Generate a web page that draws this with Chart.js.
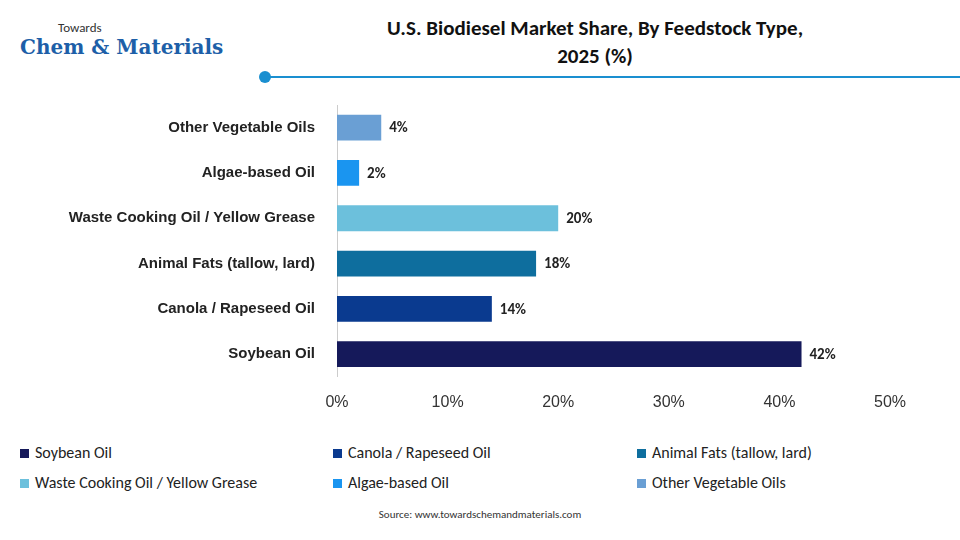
<!DOCTYPE html>
<html><head><meta charset="utf-8">
<script src="https://cdn.jsdelivr.net/npm/chart.js@4"></script>
<style>
body{margin:0;width:960px;height:540px;background:#fff;font-family:Calibri,"Liberation Sans",Arial,sans-serif;position:relative;overflow:hidden}
#title{position:absolute;left:300px;width:590px;top:14px;text-align:center;font-weight:bold;font-size:21px;line-height:28px;color:#111}
#rule{position:absolute;left:265px;top:76px;width:695px;height:2px;background:#1a8fd0}
#dot{position:absolute;left:259px;top:71px;width:12px;height:12px;border-radius:50%;background:#1a8fd0}
#logo{position:absolute;left:18px;top:20px;color:#1d5fa8}
#logo .t{font-size:13px;margin-left:40px;color:#333}
#logo .m{font-size:20px;font-weight:bold;font-family:"DejaVu Serif",serif;margin-left:2px}
#wrap{position:absolute;left:0;top:82px;width:960px;height:338px}
#legend{position:absolute;left:20px;top:443px;width:940px;font-size:16px;color:#222}
.li{position:absolute;white-space:nowrap}
.li i{display:inline-block;width:9px;height:9px;margin-right:6px}
#src{position:absolute;top:508px;width:960px;text-align:center;font-size:11px;color:#333}
</style></head><body>
<div id="logo"><div class="t">Towards</div><div class="m">Chem &amp; Materials</div></div>
<div id="title">U.S. Biodiesel Market Share, By Feedstock Type,<br>2025 (%)</div>
<div id="rule"></div><div id="dot"></div>
<div id="wrap"><canvas id="c"></canvas></div>
<div id="legend"></div>
<div id="src">Source: www.towardschemandmaterials.com</div>
<script>
const categories = ['Other Vegetable Oils','Algae-based Oil','Waste Cooking Oil / Yellow Grease','Animal Fats (tallow, lard)','Canola / Rapeseed Oil','Soybean Oil'];
const values = [4, 2, 20, 18, 14, 42];
const colors = ['#6a9fd4','#1a95f0','#6cc0dc','#0e6e9e','#0a3a8f','#15195a'];
const xTicks = [0,10,20,30,40,50];

// legend in reverse order (Soybean first)
const legend = document.getElementById('legend');
const cols = [0, 313, 617];
categories.slice().reverse().forEach((name, i) => {
    const d = document.createElement('div');
    d.className = 'li';
    d.style.left = cols[i % 3] + 'px';
    d.style.top = (Math.floor(i / 3) * 30) + 'px';
    const ci = categories.length - 1 - i;
    d.innerHTML = '<i style="background:' + colors[ci] + '"></i>' + name;
    legend.appendChild(d);
});

const labelPlugin = {
    id: 'labels',
    afterDatasetsDraw(chart) {
        const ctx = chart.ctx;
        ctx.save();
        ctx.font = 'bold 15px Calibri, "Liberation Sans", Arial';
        ctx.fillStyle = '#222';
        ctx.textBaseline = 'middle';
        chart.getDatasetMeta(0).data.forEach((bar, i) => {
            ctx.fillText(values[i] + '%', bar.x + 8, bar.y + 1);
        });
        ctx.restore();
    }
};

new Chart(document.getElementById('c'), {
    type: 'bar',
    data: { labels: categories, datasets: [{ data: values, backgroundColor: colors, barPercentage: 0.57, categoryPercentage: 1 }] },
    options: {
        indexAxis: 'y', responsive: true, maintainAspectRatio: false, animation: false,
        layout: { padding: { top: 4, right: 70, bottom: 0, left: 0 } },
        plugins: { legend: { display: false }, tooltip: { enabled: false } },
        scales: {
            x: {
                min: 0, max: 50,
                afterBuildTicks: s => { s.ticks = xTicks.map(v => ({ value: v })); },
                grid: { display: false },
                border: { display: false },
                ticks: { callback: v => v + '%', color: '#333', font: { size: 16 }, padding: 8 }
            },
            y: {
                afterFit: s => { s.width = 337; },
                grid: { display: false },
                border: { color: '#ccc' },
                ticks: { color: '#222', font: { size: 15, weight: 'bold' }, padding: 14 }
            }
        }
    },
    plugins: [labelPlugin]
});
</script>
</body></html>
